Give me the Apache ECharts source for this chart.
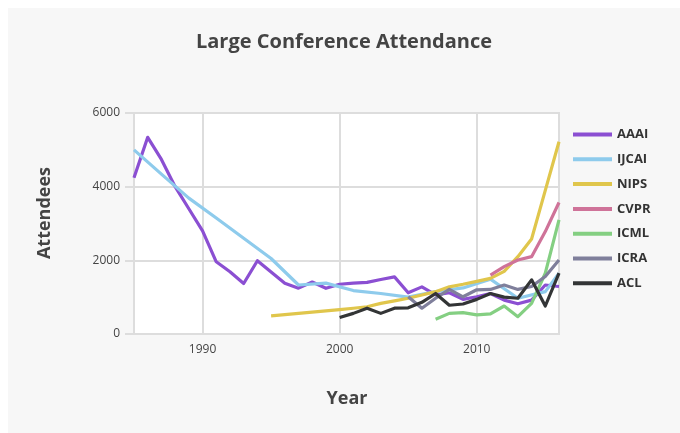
<!DOCTYPE html>
<html>
<head>
<meta charset="utf-8">
<script src="https://cdn.jsdelivr.net/npm/echarts@6/dist/echarts.min.js"></script>
<style>
html,body{margin:0;padding:0;background:#fff;width:680px;height:433px;overflow:hidden;}
#chart{position:absolute;left:8px;top:8px;width:672px;height:425px;background:#f7f7f7;}
</style>
</head>
<body>
<div id="chart"></div>
<script>
const seriesNames = ['AAAI','IJCAI','NIPS','CVPR','ICML','ICRA','ACL'];
const colors = ['#8b4fd2','#8ecbec','#e0c64c','#cf7399','#84cf82','#7f7f9b','#333536'];

const aaaiYears = [1985,1986,1987,1988,1989,1990,1991,1992,1993,1994,1996,1997,1998,1999,2000,2001,2002,2003,2004,2005,2006,2007,2008,2009,2010,2011,2012,2013,2014,2015,2016];
const aaaiValues = [4240,5340,4740,4000,3400,2800,1960,1690,1370,1990,1380,1245,1410,1240,1350,1380,1400,1480,1550,1120,1280,1060,1120,940,1010,1100,920,820,920,1330,1290];

const ijcaiYears = [1985,1987,1989,1991,1993,1995,1997,1999,2001,2003,2005,2007,2009,2011,2013,2015,2016];
const ijcaiValues = [5000,4340,3690,3150,2600,2050,1330,1380,1180,1100,1000,1150,1250,1490,970,1150,1650];

const nipsYears = [1995,2000,2001,2002,2003,2004,2005,2006,2007,2008,2009,2010,2011,2012,2013,2014,2015,2016];
const nipsValues = [490,660,700,740,830,900,970,1060,1150,1280,1350,1430,1510,1700,2100,2580,3900,5220];

const cvprYears = [2011,2012,2013,2014,2015,2016];
const cvprValues = [1600,1830,2010,2100,2780,3570];

const icmlYears = [2007,2008,2009,2010,2011,2012,2013,2014,2015,2016];
const icmlValues = [400,560,580,520,545,760,470,830,1650,3100];

const icraYears = [2005,2006,2007,2008,2009,2010,2011,2012,2013,2014,2015,2016];
const icraValues = [1010,700,970,1210,1010,1200,1210,1330,1210,1290,1560,2010];

const aclYears = [2000,2001,2002,2003,2004,2005,2006,2007,2008,2009,2010,2011,2012,2013,2014,2015,2016];
const aclValues = [450,560,700,560,700,710,860,1100,780,815,940,1100,1000,970,1470,760,1650];

const xTickLabels = [1990,2000,2010];
const yTickLabels = [0,2000,4000,6000];

const allYears = [aaaiYears,ijcaiYears,nipsYears,cvprYears,icmlYears,icraYears,aclYears];
const allValues = [aaaiValues,ijcaiValues,nipsValues,cvprValues,icmlValues,icraValues,aclValues];

const chart = echarts.init(document.getElementById('chart'));
const font = '"Open Sans", Lato, sans-serif';

const series = seriesNames.map((name, i) => ({
  name: name,
  type: 'line',
  data: allYears[i].map((y, j) => [y, allValues[i][j]]),
  symbol: 'none',
  lineStyle: {width: 3.2, color: colors[i], join: 'round'},
  itemStyle: {color: colors[i]},
  emphasis: {disabled: true},
  animation: false
}));

chart.setOption({
  backgroundColor: 'transparent',
  animation: false,
  title: {
    text: 'Large Conference Attendance',
    left: 'center',
    top: 19,
    textStyle: {fontFamily: font, fontSize: 20, fontWeight: 'bold', color: '#444'}
  },
  legend: {
    orient: 'vertical',
    left: 565,
    top: 120,
    padding: 0,
    itemWidth: 39,
    itemHeight: 14,
    itemGap: 11.8,
    icon: 'path://M0,0L39,0L39,4L0,4Z',
    data: seriesNames,
    textStyle: {fontFamily: font, fontSize: 13, fontWeight: 'bold', color: '#333'}
  },
  grid: {
    left: 126, right: 121, top: 105, bottom: 99,
    show: true, backgroundColor: '#fff', borderColor: '#ddd', borderWidth: 2
  },
  xAxis: {
    type: 'value',
    min: 1985,
    max: 2016,
    axisLine: {show: false},
    axisTick: {show: false, customValues: xTickLabels},
    axisLabel: {customValues: xTickLabels, formatter: v => String(v), margin: 10, fontFamily: font, fontSize: 12, color: '#444'},
    splitLine: {show: true, lineStyle: {color: '#ddd', width: 2}}
  },
  yAxis: {
    type: 'value',
    min: 0,
    max: 6000,
    interval: 2000,
    axisLine: {show: false},
    axisTick: {show: true, length: 9, lineStyle: {color: '#ddd', width: 2}},
    axisLabel: {formatter: v => String(v), margin: 14, fontFamily: font, fontSize: 12, color: '#444'},
    splitLine: {show: true, lineStyle: {color: '#ddd', width: 2}}
  },
  graphic: [
    {type: 'text', x: 339, y: 391, style: {text: 'Year', fontFamily: font, fontSize: 18, fontWeight: 'bold', fill: '#444', textAlign: 'center', textVerticalAlign: 'middle'}},
    {type: 'text', x: 37, y: 205, rotation: Math.PI/2, style: {text: 'Attendees', fontFamily: font, fontSize: 18, fontWeight: 'bold', fill: '#444', textAlign: 'center', textVerticalAlign: 'middle'}}
  ],
  series: series
});
</script>
</body>
</html>
